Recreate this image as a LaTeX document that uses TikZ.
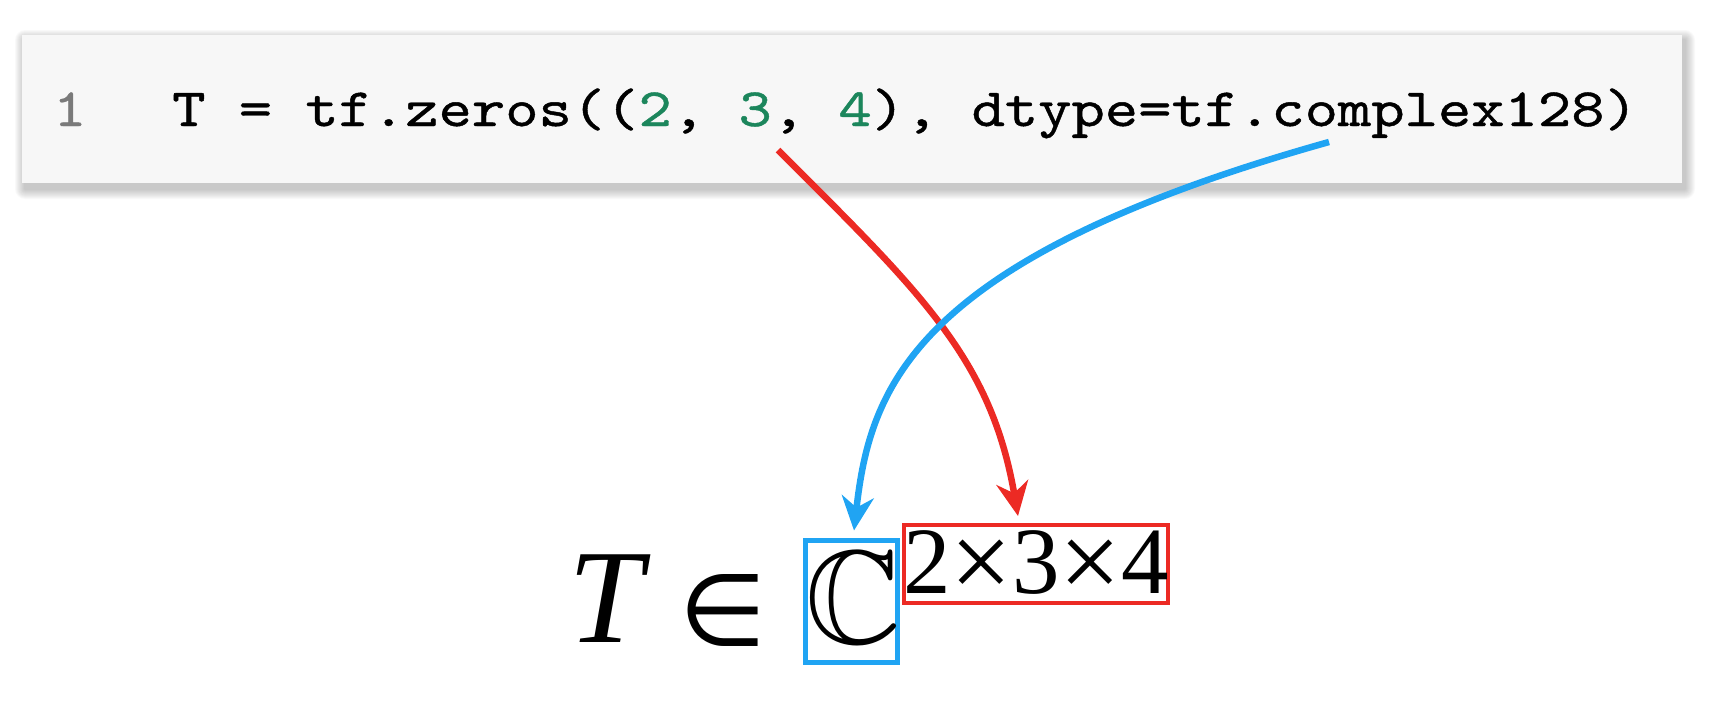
\documentclass[tikz,border=0pt]{standalone}
\usepackage{fontspec}
\usepackage{amssymb}
\usepackage{graphicx}
\usetikzlibrary{arrows.meta}
\newfontfamily\codefont{lmmono10-regular.otf}[FakeStretch=1.175, FakeBold=0.8]
\newfontfamily\timesfont{Liberation Serif}
\newfontfamily\symfont{DejaVu Sans}
\definecolor{codebg}{RGB}{247,247,247}
\definecolor{litgreen}{RGB}{28,134,92}
\definecolor{linegray}{RGB}{122,122,122}
\definecolor{shapered}{RGB}{236,42,36}
\definecolor{typeblue}{RGB}{32,164,243}
\newcommand{\lit}[1]{\textcolor{litgreen}{#1}}
\newcommand{\by}{\raisebox{-5pt}{\scalebox{1.15}{×}}}
\begin{document}
\begin{tikzpicture}[
       x=1pt, y=-1pt,
       codebox/.style={rectangle, fill=codebg, minimum width=1660pt, minimum height=148pt, inner sep=0pt},
       code/.style={anchor=base west, inner sep=0pt, font=\codefont\fontsize{54}{60}\selectfont},
       mathtext/.style={anchor=base west, inner sep=0pt},
       hlbox/.style={rectangle, inner sep=0pt},
       arrow/.style={-{Stealth[length=34pt, width=32pt, inset=11pt]}, line width=6.5pt}
   ]
   \useasboundingbox (0,0) rectangle (1714,704);
   \foreach \s in {1,...,10}
      \fill[black, opacity=0.024, rounded corners=\s pt] ({25-\s},{40-\s}) rectangle ({1685+\s},{189+\s});
   \node[codebox] (codeblock) at (852,109) {};
   \node[code, text=linegray] (lineno) at (53,126) {1};
   \node[code] (code) at (172,126) {T = tf.zeros((\lit{2}, \lit{3}, \lit{4}), dtype=tf.complex128)};
   \coordinate (shapefrom) at (778,150);
   \coordinate (dtypefrom) at (1329,142);

   \node[mathtext, font=\timesfont\itshape\fontsize{134}{140}\selectfont] (tvar) at (568,642) {T};
   \node[mathtext, font=\symfont\fontsize{100}{110}\selectfont] (elem) at (679,645) {∈};
   \node[hlbox, draw=typeblue, line width=5pt, minimum width=92pt, minimum height=122pt] (cset) at (851.5,601.5) {};
   \node[anchor=base, inner sep=0pt] (cchar) at (853.5,643) {\scalebox{13.3}{$\mathbb{C}$}};
   \node[hlbox, draw=shapered, line width=4pt, minimum width=264pt, minimum height=78pt] (dims) at (1036,564) {};
   \node[mathtext, font=\timesfont\fontsize{95}{100}\selectfont] (dimtext) at (903,593) {2\by3\by4};

   \draw[arrow, shapered] (shapefrom) .. controls (920,292) and (991,358) .. ([xshift=-18pt, yshift=7pt]dims.north);
   \draw[arrow, typeblue] (dtypefrom) .. controls (912,259) and (870,388) .. ([xshift=2.5pt, yshift=7.5pt]cset.north);
   \end{tikzpicture}
\end{document}
